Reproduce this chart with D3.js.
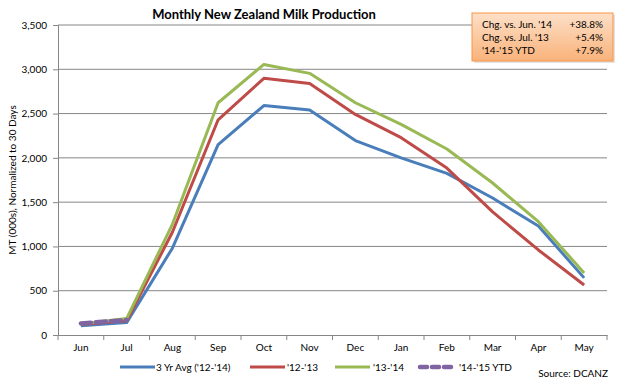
<!DOCTYPE html>
<html><head><meta charset="utf-8">
<script src="https://cdn.jsdelivr.net/npm/d3@7"></script>
<style>body{margin:0;background:#fff;}text{font-family:Lato,"Open Sans",sans-serif;}</style>
</head><body>
<svg id="c" width="628" height="388"></svg>
<script>
const months = ["Jun","Jul","Aug","Sep","Oct","Nov","Dec","Jan","Feb","Mar","Apr","May"];
const avg3yr = [105,140,980,2150,2590,2540,2195,2000,1825,1547,1230,645];
const y1213 = [118,160,1160,2430,2898,2840,2490,2228,1885,1390,960,565];
const y1314 = [125,185,1250,2622,3055,2954,2622,2378,2100,1716,1280,700];
const y1415 = [131,169];
const yTicks = [0,500,1000,1500,2000,2500,3000,3500];
const seriesNames = ["3 Yr Avg ('12-'14)","'12-'13","'13-'14","'14-'15 YTD"];
const colors = ["#4a7ebb","#be4b48","#98b954","#8064a2"];
const statLabels = ["Chg. vs. Jun. '14","Chg. vs. Jul. '13","'14-'15 YTD"];
const statValues = ["+38.8%","+5.4%","+7.9%"];

const svg = d3.select("#c");
const L=58,R=607,T=25,B=335;
const x = d3.scaleBand().domain(months).range([L,R]);
const y = d3.scaleLinear().domain([0,3500]).range([B,T]);

// gridlines
svg.append("g").selectAll("line").data(yTicks.slice(1)).join("line")
 .attr("x1",L).attr("x2",R).attr("y1",d=>y(d)).attr("y2",d=>y(d))
 .attr("stroke","#868686").attr("stroke-width",1);

// y axis
const ya = svg.append("g").attr("transform",`translate(${L},0)`)
 .call(d3.axisLeft(y).tickValues(yTicks).tickFormat(d3.format(",")).tickSize(5).tickPadding(6));
ya.select(".domain").attr("stroke","#868686");
ya.selectAll(".tick line").attr("stroke","#868686");
ya.selectAll("text").attr("font-size",10).attr("fill","#000").style("font-family","Lato,sans-serif");

// x axis
const xa = svg.append("g").attr("transform",`translate(0,${B})`)
 .call(d3.axisBottom(x).tickSize(0).tickPadding(9));
xa.select(".domain").attr("stroke","#868686");
xa.selectAll("text").attr("font-size",10).attr("fill","#000").style("font-family","Lato,sans-serif");
svg.append("g").selectAll("line").data(d3.range(months.length+1)).join("line")
 .attr("x1",i=>L+i*x.step()).attr("x2",i=>L+i*x.step()).attr("y1",B).attr("y2",B+5)
 .attr("stroke","#868686");

// lines
const line = d3.line().x((d,i)=>x(months[i])+x.bandwidth()/2).y(d=>y(d));
const data = [avg3yr,y1213,y1314,y1415];
data.forEach((s,k)=>{
  const p = svg.append("path").attr("d",line(s)).attr("fill","none")
   .attr("stroke",colors[k]).attr("stroke-width",k==3?4.5:3).attr("stroke-linejoin","round");
  if(k==3) p.attr("stroke-dasharray","10,5").attr("stroke-linecap","round");
});

// title
svg.append("text").attr("x",264).attr("y",19).attr("text-anchor","middle")
 .attr("font-size",13).attr("font-weight","bold").text("Monthly New Zealand Milk Production");

// y label
svg.append("text").attr("transform","translate(16,180) rotate(-90)").attr("text-anchor","middle")
 .attr("font-size",10).text("MT (000s), Normalized to 30 Days");

// legend
const lg = [{x1:120,x2:155,t:156},{x1:250,x2:285,t:287},{x1:335,x2:370,t:373},{x1:420,x2:453,t:459}];
lg.forEach((g,k)=>{
  const l = svg.append("line").attr("x1",g.x1).attr("x2",g.x2).attr("y1",367).attr("y2",367)
   .attr("stroke",colors[k]).attr("stroke-width",k==3?4.5:3);
  if(k==3) l.attr("stroke-dasharray","7,5").attr("stroke-linecap","round");
  svg.append("text").attr("x",g.t).attr("y",370.5).attr("font-size",10).text(seriesNames[k]);
});
svg.append("text").attr("x",608).attr("y",377).attr("text-anchor","end").attr("font-size",10).text("Source: DCANZ");

// stats box
const defs = svg.append("defs");
const gr = defs.append("linearGradient").attr("id","og").attr("x1",0).attr("x2",0).attr("y1",0).attr("y2",1);
gr.append("stop").attr("offset","0%").attr("stop-color","#fde0c8");
gr.append("stop").attr("offset","100%").attr("stop-color","#f9b27a");
svg.append("rect").attr("x",474).attr("y",15).attr("width",141).attr("height",48).attr("fill","#d0d0d0").attr("opacity",0.6);
svg.append("rect").attr("x",472).attr("y",13).attr("width",141).attr("height",48)
 .attr("fill","url(#og)").attr("stroke","#f79646").attr("stroke-width",1);
statLabels.forEach((s,i)=>{
  svg.append("text").attr("x",482).attr("y",28+i*13).attr("font-size",10).text(s);
  svg.append("text").attr("x",603).attr("y",28+i*13).attr("text-anchor","end").attr("font-size",10).text(statValues[i]);
});
</script>
</body></html>
